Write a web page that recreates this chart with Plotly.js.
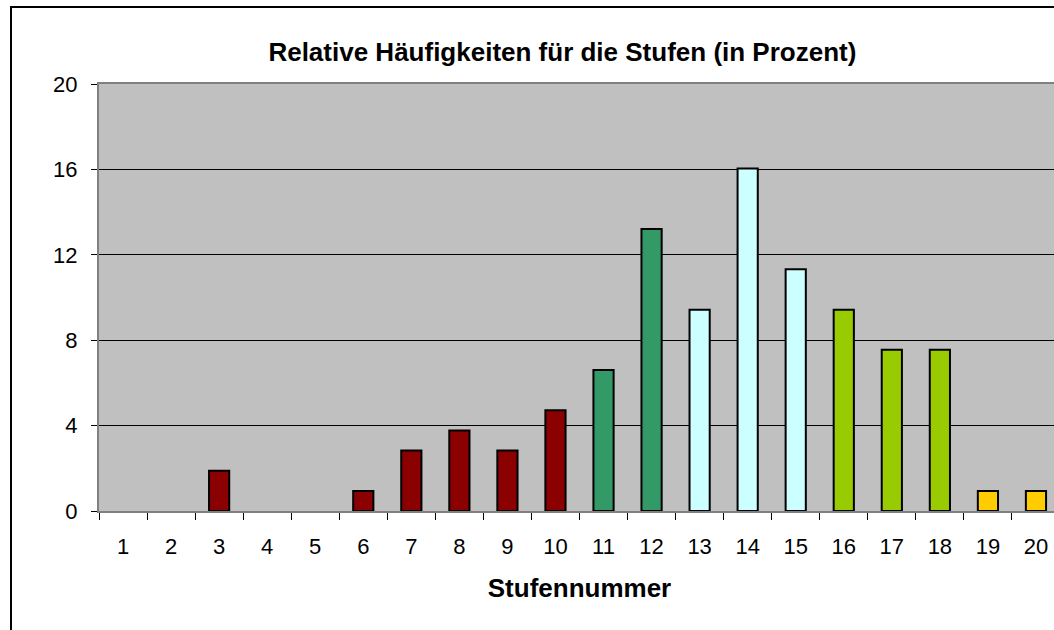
<!DOCTYPE html>
<html>
<head>
<meta charset="utf-8">
<script src="https://cdn.plot.ly/plotly-3.0.1.min.js"></script>
<style>
html, body { margin: 0; padding: 0; width: 1054px; height: 630px; overflow: hidden; background: #fff; }
#wrap { position: absolute; left: 10px; top: 6px; border: 2px solid #000; width: 1075px; height: 650px; }
#chart { width: 1075px; height: 650px; }
</style>
</head>
<body>
<div id="wrap"><div id="chart"></div></div>
<script>
// Data
const categories = ["1","2","3","4","5","6","7","8","9","10","11","12","13","14","15","16","17","18","19","20"];
const values = [0, 0, 1.89, 0, 0, 0.94, 2.83, 3.77, 2.83, 4.72, 6.60, 13.21, 9.43, 16.04, 11.32, 9.43, 7.55, 7.55, 0.94, 0.94];
const yTicks = [0, 4, 8, 12, 16, 20];
const titleText = "Relative Häufigkeiten für die Stufen (in Prozent)";
const xTitleText = "Stufennummer";

// Styles
const barColors = ["#8B0000","#8B0000","#8B0000","#8B0000","#8B0000","#8B0000","#8B0000","#8B0000","#8B0000","#8B0000",
                   "#339966","#339966","#CCFFFF","#CCFFFF","#CCFFFF","#99CC00","#99CC00","#99CC00","#FFCC00","#FFCC00"];
const font = "Liberation Sans, Arial, sans-serif";

const trace = {
  type: "bar",
  x: categories,
  y: values,
  marker: { color: barColors, line: { color: "#000", width: values.map(v => v > 0 ? 2 : 0) } },
  hoverinfo: "x+y"
};

const layout = {
  width: 1075, height: 650,
  margin: { l: 87, r: 27, t: 76, b: 147 },
  paper_bgcolor: "#fff",
  plot_bgcolor: "#C0C0C0",
  bargap: 0.58,
  showlegend: false,
  font: { family: font, color: "#000", size: 22 },
  title: {
    text: "<b>" + titleText + "</b>",
    font: { family: font, size: 26, color: "#000" },
    xref: "container", x: 0.512, xanchor: "center",
    yref: "container", y: 1 - 44/650, yanchor: "middle"
  },
  xaxis: {
    type: "category",
    tickson: "boundaries",
    ticks: "outside", ticklen: 7, tickcolor: "#000", tickwidth: 1,
    showline: true, linecolor: "#808080", linewidth: 2, mirror: true,
    showgrid: false,
    ticklabelstandoff: 15,
    tickfont: { family: font, size: 22, color: "#000" },
    title: { text: "<b>" + xTitleText + "</b>", font: { family: font, size: 26, color: "#000" }, standoff: 20 },
    fixedrange: true
  },
  yaxis: {
    range: [0, 20],
    tickvals: yTicks,
    ticktext: yTicks.map(String),
    ticks: "outside", ticklen: 6, tickcolor: "#000", tickwidth: 1,
    showline: true, linecolor: "#808080", linewidth: 2, mirror: true,
    showgrid: true, gridcolor: "#000", gridwidth: 1,
    zeroline: false,
    ticklabelstandoff: 9,
    tickfont: { family: font, size: 22, color: "#000" },
    fixedrange: true
  }
};

Plotly.newPlot("chart", [trace], layout, { displayModeBar: false, staticPlot: true });
</script>
</body>
</html>
